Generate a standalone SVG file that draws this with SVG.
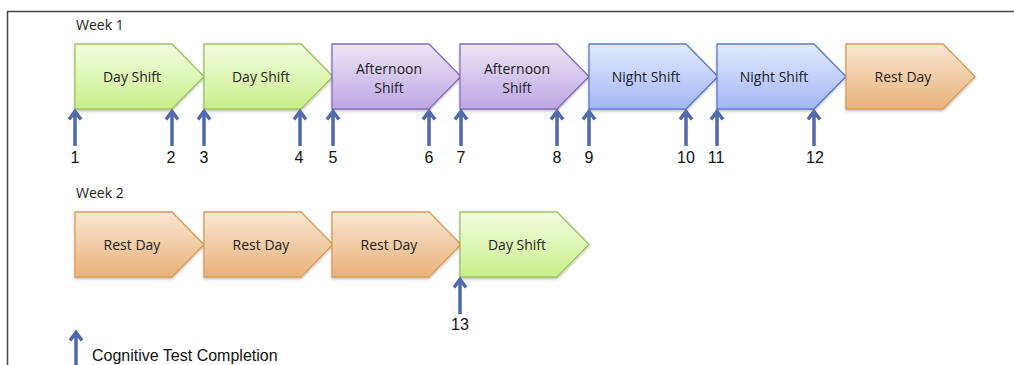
<svg xmlns="http://www.w3.org/2000/svg" width="1014" height="365" viewBox="0 0 1014 365">
<style>
.lbl{font-family:"Open Sans","Liberation Sans",sans-serif;font-size:14px;fill:#222;text-anchor:middle}
.wk{font-family:"Open Sans","Liberation Sans",sans-serif;font-size:14px;fill:#222}
.num{font-family:"Liberation Sans",Arial,sans-serif;font-size:16px;fill:#111;text-anchor:middle}
.leg{font-family:"Liberation Sans",Arial,sans-serif;font-size:16px;fill:#111}
.ar{stroke:#4f69ae;stroke-width:3.5;fill:none;stroke-linecap:butt;stroke-linejoin:miter}
.g{fill:url(#gG);stroke:#9cc35e}
.p{fill:url(#gP);stroke:#8a6cbf}
.b{fill:url(#gB);stroke:#5b78cc}
.o{fill:url(#gO);stroke:#d99c58}
.shp{stroke-width:1.3;filter:url(#sh)}
</style>
<defs>
<linearGradient id="gG" x1="0" y1="0" x2="0" y2="1"><stop offset="0" stop-color="#f4fde2"/><stop offset="1" stop-color="#c8ef8a"/></linearGradient>
<linearGradient id="gP" x1="0" y1="0" x2="0" y2="1"><stop offset="0" stop-color="#eee6f7"/><stop offset="1" stop-color="#bca7e3"/></linearGradient>
<linearGradient id="gB" x1="0" y1="0" x2="0" y2="1"><stop offset="0" stop-color="#e3eafd"/><stop offset="1" stop-color="#a2b6f5"/></linearGradient>
<linearGradient id="gO" x1="0" y1="0" x2="0" y2="1"><stop offset="0" stop-color="#fbe7d2"/><stop offset="1" stop-color="#e8b27a"/></linearGradient>
<filter id="sh" x="-10%" y="-10%" width="120%" height="130%"><feDropShadow dx="0" dy="1.5" stdDeviation="1.2" flood-color="#000" flood-opacity="0.25"/></filter>
<path id="pent1" d="M0,0 H97 L129,32.5 L97,65 H0 Z"/>
<path id="arr" d="M0,1 V36 M-6,9.5 L0,1.5 L6,9.5"/>
</defs>

<path d="M7.5,365 V11.5 H1014" fill="none" stroke="#444" stroke-width="1.5"/>

<text class="wk" x="76" y="30">Week 1</text>
<text class="wk" x="76" y="198">Week 2</text>

<g id="w1-day1"><use href="#pent1" x="75" y="44" class="g shp"/><text class="lbl" x="132" y="82">Day Shift</text></g>
<g id="w1-day2"><use href="#pent1" x="204" y="44" class="g shp"/><text class="lbl" x="261" y="82">Day Shift</text></g>
<g id="w1-aft1"><use href="#pent1" x="332" y="44" class="p shp"/><text class="lbl" x="389" y="74">Afternoon</text><text class="lbl" x="389" y="93">Shift</text></g>
<g id="w1-aft2"><use href="#pent1" x="460" y="44" class="p shp"/><text class="lbl" x="517" y="74">Afternoon</text><text class="lbl" x="517" y="93">Shift</text></g>
<g id="w1-night1"><use href="#pent1" x="589" y="44" class="b shp"/><text class="lbl" x="646" y="82">Night Shift</text></g>
<g id="w1-night2"><use href="#pent1" x="717" y="44" class="b shp"/><text class="lbl" x="774" y="82">Night Shift</text></g>
<g id="w1-rest"><use href="#pent1" x="846" y="44" class="o shp"/><text class="lbl" x="903" y="82">Rest Day</text></g>

<g id="w2-rest1"><use href="#pent1" x="75" y="212" class="o shp"/><text class="lbl" x="132" y="250">Rest Day</text></g>
<g id="w2-rest2"><use href="#pent1" x="204" y="212" class="o shp"/><text class="lbl" x="261" y="250">Rest Day</text></g>
<g id="w2-rest3"><use href="#pent1" x="332" y="212" class="o shp"/><text class="lbl" x="389" y="250">Rest Day</text></g>
<g id="w2-day"><use href="#pent1" x="460" y="212" class="g shp"/><text class="lbl" x="517" y="250">Day Shift</text></g>

<g id="connectors">
<use href="#arr" class="ar" x="75" y="110"/>
<use href="#arr" class="ar" x="172" y="110"/>
<use href="#arr" class="ar" x="204" y="110"/>
<use href="#arr" class="ar" x="300" y="110"/>
<use href="#arr" class="ar" x="333" y="110"/>
<use href="#arr" class="ar" x="429" y="110"/>
<use href="#arr" class="ar" x="461" y="110"/>
<use href="#arr" class="ar" x="557" y="110"/>
<use href="#arr" class="ar" x="589" y="110"/>
<use href="#arr" class="ar" x="686" y="110"/>
<use href="#arr" class="ar" x="717" y="110"/>
<use href="#arr" class="ar" x="814" y="110"/>
<use href="#arr" class="ar" x="460" y="278"/>
<use href="#arr" class="ar" x="76" y="331"/>
</g>

<g id="numbers">
<text class="num" x="75" y="163">1</text>
<text class="num" x="171" y="163">2</text>
<text class="num" x="204" y="163">3</text>
<text class="num" x="299" y="163">4</text>
<text class="num" x="333" y="163">5</text>
<text class="num" x="429" y="163">6</text>
<text class="num" x="461" y="163">7</text>
<text class="num" x="557" y="163">8</text>
<text class="num" x="589" y="163">9</text>
<text class="num" x="686" y="163">10</text>
<text class="num" x="716" y="163">11</text>
<text class="num" x="815" y="163">12</text>
<text class="num" x="460" y="330">13</text>
</g>

<g id="legend"><text class="leg" x="92" y="361">Cognitive Test Completion</text></g>
</svg>
